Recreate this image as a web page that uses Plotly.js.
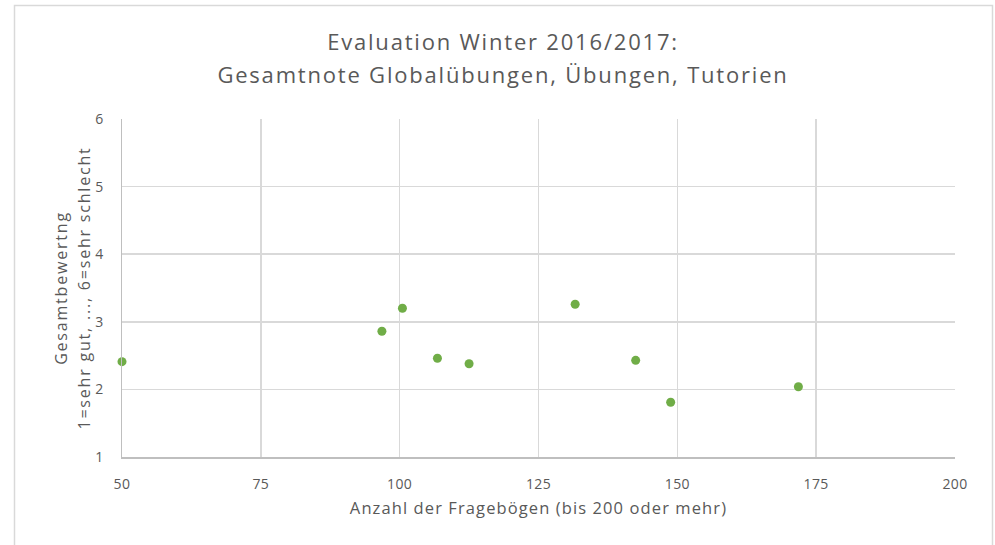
<!DOCTYPE html>
<html>
<head>
<meta charset="utf-8">
<script src="https://cdn.plot.ly/plotly-3.0.1.min.js"></script>
<style>
html,body{margin:0;padding:0;background:#fff;}
#chart{width:995px;height:545px;}
#chart .gtitle{letter-spacing:1.8px;}
#chart .xtitle{letter-spacing:1.1px;}
#chart .ytitle{letter-spacing:1.8px;}
#chart .xtick text, #chart .ytick text{letter-spacing:0.4px;}
</style>
</head>
<body>
<div id="chart"></div>
<script>
// Data
const anzahlFrageboegen = [50, 96.8, 100.5, 106.8, 112.5, 131.6, 142.5, 148.8, 171.8];
const gesamtbewertung   = [2.41, 2.86, 3.20, 2.46, 2.38, 3.26, 2.43, 1.81, 2.04];
const xTickVals = [50, 75, 100, 125, 150, 175, 200];
const yTickVals = [1, 2, 3, 4, 5, 6];

const FONT = "Open Sans, sans-serif";
const TXT = "#595959";

const trace = {
  type: 'scatter',
  mode: 'markers',
  x: anzahlFrageboegen,
  y: gesamtbewertung,
  marker: {color: '#70ad47', size: 9, line: {width: 0}},
  cliponaxis: false,
  hoverinfo: 'x+y'
};

// plot area in pixels: x 122..955, y 119..457
const L = 122, R = 995 - 955, T = 119, B = 545 - 457;
const pw = 995 - L - R, ph = 545 - T - B;
function px2x(p){ return (p - L) / pw; }
function py2y(p){ return (545 - B - p) / ph; }

const layout = {
  width: 995, height: 545,
  margin: {l: L, r: R, t: T, b: B, pad: 0},
  paper_bgcolor: '#ffffff',
  plot_bgcolor: '#ffffff',
  showlegend: false,
  font: {family: FONT, color: TXT, size: 14},
  title: {
    text: '<span style="font-size:22px">Evaluation Winter 2016/2017:</span><br><span style="font-size:22px">Gesamtnote Globalübungen, Übungen, Tutorien</span>',
    font: {family: FONT, size: 25, color: TXT},
    x: 503 / 995, xref: 'container', xanchor: 'center',
    y: 0.908, yref: 'container', yanchor: 'top'
  },
  xaxis: {
    range: [50, 200],
    tickvals: xTickVals,
    ticktext: xTickVals.map(String),
    showgrid: true, gridcolor: '#d9d9d9', gridwidth: 1.5,
    showline: true, linecolor: '#bfbfbf', linewidth: 1.5,
    zeroline: false,
    ticks: '', ticklen: 0,
    ticklabelstandoff: 14,
    tickfont: {family: FONT, size: 14, color: TXT},
    title: {text: 'Anzahl der Fragebögen (bis 200 oder mehr)', font: {family: FONT, size: 16.5, color: TXT}, standoff: 10},
    fixedrange: true
  },
  yaxis: {
    range: [1, 6],
    tickvals: yTickVals,
    ticktext: yTickVals.map(String),
    showgrid: true, gridcolor: '#d9d9d9', gridwidth: 1.5,
    showline: true, linecolor: '#bfbfbf', linewidth: 1.5,
    zeroline: false,
    ticks: '', ticklen: 0,
    ticklabelstandoff: 14,
    tickfont: {family: FONT, size: 14, color: TXT},
    title: {text: '<span style="font-size:16px">Gesamtbewertng</span><br><span style="font-size:16px">1=sehr gut, ..., 6=sehr schlecht</span>', font: {family: FONT, size: 18, color: TXT}, standoff: 0},
    fixedrange: true
  },
  shapes: [{
    type: 'rect', xref: 'paper', yref: 'paper', layer: 'below',
    x0: px2x(14.5), x1: px2x(992.5), y0: py2y(560), y1: py2y(5.5),
    line: {color: '#d9d9d9', width: 1.5},
    fillcolor: 'rgba(0,0,0,0)'
  }]
};

Plotly.newPlot('chart', [trace], layout, {displayModeBar: false, staticPlot: true});
</script>
</body>
</html>
